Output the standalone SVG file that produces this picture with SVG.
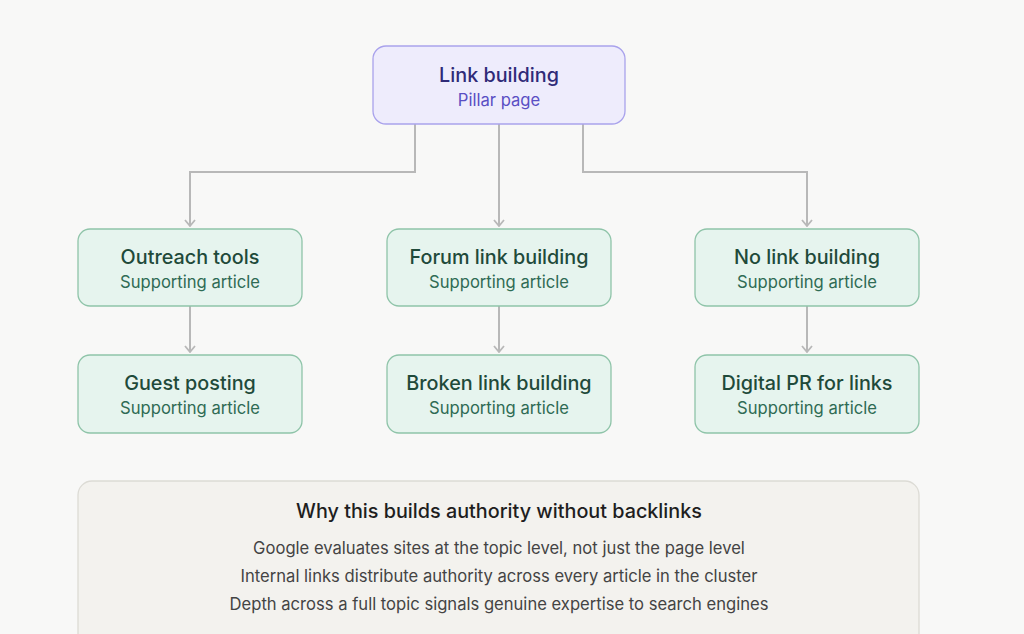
<svg xmlns="http://www.w3.org/2000/svg" width="1024" height="634" viewBox="0 0 1024 634">
<style>
.t{font-family:Inter,"Open Sans","Liberation Sans",sans-serif;text-anchor:middle}
.c{fill:#e6f4ee;stroke:#8fc4a9;stroke-width:1.3}
.ct{font-size:19.8px;font-weight:500;fill:#1f4a3a}
.cs{font-size:16.6px;fill:#2f6b54}
.ln{fill:none;stroke:#b8b8b8;stroke-width:2}
</style>
<defs><marker id="a" viewBox="0 0 10 12" refX="9" refY="6" markerWidth="10" markerHeight="12" markerUnits="userSpaceOnUse" orient="auto"><path d="M3,1 L9,6 L3,11" fill="none" stroke="#b8b8b8" stroke-width="1.8"/></marker></defs>
<rect width="1024" height="634" fill="#f8f8f7"/>
<g id="connectors">
<path class="ln" d="M415,124 V172 H190 V226" marker-end="url(#a)"/>
<path class="ln" d="M499,124 V226" marker-end="url(#a)"/>
<path class="ln" d="M583,124 V172 H807 V226" marker-end="url(#a)"/>
<path class="ln" d="M190,306 V352" marker-end="url(#a)"/>
<path class="ln" d="M499,306 V352" marker-end="url(#a)"/>
<path class="ln" d="M807,306 V352" marker-end="url(#a)"/>
</g>
<g id="pillar"><rect x="373" y="46" width="252" height="78" rx="13" fill="#eeecfc" stroke="#a9a2ec" stroke-width="1.3"/>
<text class="t" x="499" y="82" font-size="19.8" font-weight="500" fill="#2f2a78">Link building</text>
<text class="t" x="499" y="106" font-size="16.6" fill="#5a4fc4">Pillar page</text></g>
<g id="n1"><rect class="c" x="78" y="229" width="224" height="77" rx="12"/><text class="t ct" x="190" y="264">Outreach tools</text><text class="t cs" x="190" y="288">Supporting article</text></g>
<g id="n2"><rect class="c" x="387" y="229" width="224" height="77" rx="12"/><text class="t ct" x="499" y="264">Forum link building</text><text class="t cs" x="499" y="288">Supporting article</text></g>
<g id="n3"><rect class="c" x="695" y="229" width="224" height="77" rx="12"/><text class="t ct" x="807" y="264">No link building</text><text class="t cs" x="807" y="288">Supporting article</text></g>
<g id="n4"><rect class="c" x="78" y="355" width="224" height="78" rx="12"/><text class="t ct" x="190" y="390">Guest posting</text><text class="t cs" x="190" y="414">Supporting article</text></g>
<g id="n5"><rect class="c" x="387" y="355" width="224" height="78" rx="12"/><text class="t ct" x="499" y="390">Broken link building</text><text class="t cs" x="499" y="414">Supporting article</text></g>
<g id="n6"><rect class="c" x="695" y="355" width="224" height="78" rx="12"/><text class="t ct" x="807" y="390">Digital PR for links</text><text class="t cs" x="807" y="414">Supporting article</text></g>
<g id="note"><rect x="78" y="481" width="841" height="180" rx="14" fill="#f3f2ee" stroke="#dcdbd5" stroke-width="1.3"/>
<text class="t" x="499" y="518" font-size="19.8" font-weight="500" fill="#1e1e1e">Why this builds authority without backlinks</text>
<text class="t" x="499" y="554" font-size="16.6" fill="#444">Google evaluates sites at the topic level, not just the page level</text>
<text class="t" x="499" y="582" font-size="16.6" fill="#444">Internal links distribute authority across every article in the cluster</text>
<text class="t" x="499" y="610" font-size="16.6" fill="#444">Depth across a full topic signals genuine expertise to search engines</text></g>
</svg>
